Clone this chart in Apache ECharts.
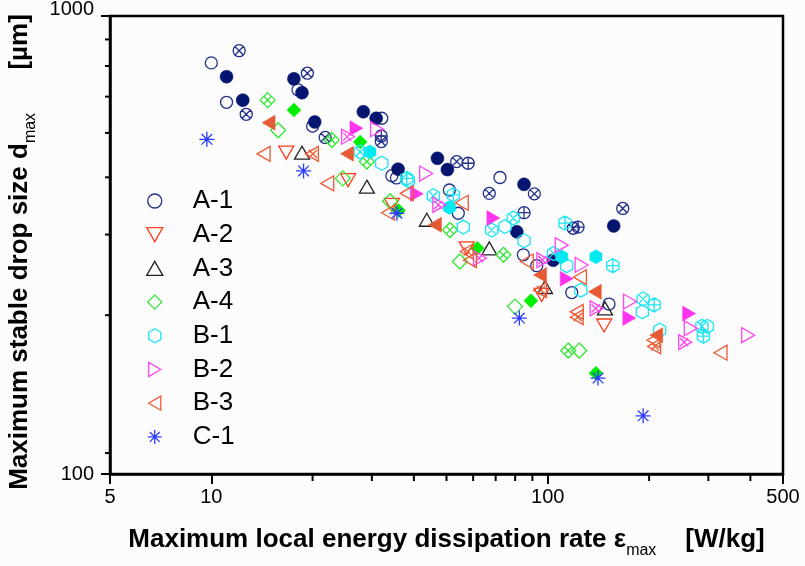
<!DOCTYPE html>
<html>
<head>
<meta charset="utf-8">
<script src="https://cdn.jsdelivr.net/npm/echarts@6/dist/echarts.min.js"></script>
<style>
html,body{margin:0;padding:0;background:#fcfcfc;}
#main{width:805px;height:566px;}
</style>
</head>
<body>
<div id="main"></div>
<script>
// tick positions
var xMinorTicks = [20, 30, 40, 50, 60, 70, 80, 90, 200, 300, 400]
var yMinorTicks = [111.1, 222.2, 333.3, 444.4, 555.6, 666.7, 777.8, 888.9]
var groups = ['A-1', 'A-2', 'A-3', 'A-4', 'B-1', 'B-2', 'B-3', 'C-1']

// [epsilon_max W/kg, d_max um]
var a1Open = [[10.0,790],[11.1,648],[18.1,690],[20.0,575],[32.1,598],[34.4,448],[35.5,443],[51.0,417],[54.2,371],[72.1,444],[84.6,301],[92.7,285],[117.8,249],[152,235]]
var a1Filled = [[11.1,737],[12.4,655],[17.6,729],[18.6,680],[20.3,587],[28.3,618],[30.9,598],[35.9,463],[47.0,489],[50.3,462],[85.0,429],[80.9,338],[103.8,293],[157,348]]
var a1Cross = [[12.1,840],[12.7,610],[19.3,750],[21.8,543],[32.0,532],[53.6,481],[67.0,410],[91.2,409],[119,344],[167,380]]
var a1Plus = [[32.0,547],[58.0,477],[85.0,372],[123,346]]
var a2Open = [[16.7,503],[25.5,438],[34.4,387],[57.4,311],[95.9,246],[147,211]]
var a3Open = [[18.6,503],[29.0,424],[43.7,359],[67.0,311],[98.1,256],[147.9,230]]
var a4Open = [[15.8,563],[24.6,442],[34.0,394],[54.8,291],[79.9,232],[124,186]]
var a4Filled = [[17.6,623],[27.7,531],[36.0,376],[61.7,311],[89.1,239],[139,166]]
var a4Cross = [[14.7,655],[22.8,536],[29.0,481],[51.2,341],[73.8,301],[115,186]]
var b1Open = [[32.1,477],[38.5,437],[56.1,346],[74.6,347],[85.0,323],[113.8,285],[125.3,252],[191,226],[215,206],[298,210]]
var b1Filled = [[29.6,505],[51.0,382],[110.0,298],[139,298]]
var b1Cross = [[27.7,505],[45.7,405],[68.1,341],[79.0,362],[104,303],[192,241],[287,210]]
var b1Plus = [[38.1,442],[52.4,407],[112.5,353],[156,285],[207,234],[290,200]]
var b2Open = [[31.1,566],[43.5,453],[110,316],[126,286],[175.5,238],[266,208],[394,201]]
var b2Filled = [[27.0,569],[40.8,409],[68.9,362],[113.8,267],[174.7,219],[263,224]]
var b2Cross = [[25.5,545],[47.6,387],[62.9,296],[97.0,293],[139.7,230],[256,194]]
var b3Open = [[14.3,500],[22.1,431],[33.5,372],[38.1,410],[55.5,391],[58.7,293],[86.6,291],[124.6,269],[121.9,226],[206,196],[326,184]]
var b3Filled = [[14.8,585],[25.3,500],[46.2,350],[94.8,272],[138,250],[210,201]]
var b3Cross = [[19.9,500],[57.4,306],[94.8,252],[121.9,220],[207,190]]
var c1Open = [[9.7,538],[18.8,459],[35.6,371],[82.3,219],[141,162],[192,134]]

// symbol shapes
var CIR = 'M10,0A10,10,0,1,1,-10,0A10,10,0,1,1,10,0Z'
var HEX = 'M0,-10L8.66,-5L8.66,5L0,10L-8.66,5L-8.66,-5Z'
var DIA = 'M0,-10L10,0L0,10L-10,0Z'
var TUP = 'M0,-10L10,7.3L-10,7.3Z'
var TDN = 'M0,10L10,-7.3L-10,-7.3Z'
var TRT = 'M10,0L-7.3,10L-7.3,-10Z'
var TLT = 'M-10,0L7.3,10L7.3,-10Z'
var X7 = 'M-7.07,-7.07L7.07,7.07M7.07,-7.07L-7.07,7.07'
var X6 = 'M-5.5,-5.5L5.5,5.5M5.5,-5.5L-5.5,5.5'
var P10 = 'M-10,0L10,0M0,-10L0,10'
var AST = 'M0,-10L0,10M-10,0L10,0' + X7

function p(s){ return 'path://' + s }

function mk(name, data, sym, color, filled, size){
	return {
		name: name,
		type: 'scatter',
		data: data,
		symbol: p(sym),
		symbolSize: size || 13,
		symbolKeepAspect: true,
		silent: true,
		itemStyle: filled ? {color: color, borderColor: color, borderWidth: 0.5, opacity: 1}
			: {color: 'rgba(0,0,0,0)', borderColor: color, borderWidth: 1.3, opacity: 1}
	}
}

var navy = '#23308a', navyF = '#061670'
var red = '#ff3c1c', blk = '#222222'
var green = '#33e633', greenF = '#00ee00'
var cyan = '#19e6f2', cyanF = '#00e8f0'
var mag = '#ff44f0', magF = '#ff33ee'
var org = '#ee5a35', orgF = '#e65a35'
var blue = '#2a3cff'

var series = [
	mk('A-1', a1Open, CIR, navy, false, 12),
	mk('A-1', a1Filled, CIR, navyF, true, 13),
	mk('A-1', a1Cross, CIR + X7, navy, false, 12),
	mk('A-1', a1Plus, CIR + P10, navy, false, 12),
	mk('A-2', a2Open, TDN, red, false, 15),
	mk('A-3', a3Open, TUP, blk, false, 15),
	mk('A-4', a4Open, DIA, green, false, 15),
	mk('A-4', a4Filled, DIA, greenF, true, 14),
	mk('A-4', a4Cross, DIA + X6, green, false, 15),
	mk('B-1', b1Open, HEX, cyan, false, 14),
	mk('B-1', b1Filled, HEX, cyanF, true, 14),
	mk('B-1', b1Cross, HEX + X6, cyan, false, 14),
	mk('B-1', b1Plus, HEX + 'M-8.66,0L8.66,0M0,-10L0,10', cyan, false, 14),
	mk('B-2', b2Open, TRT, mag, false, 15),
	mk('B-2', b2Filled, TRT, magF, true, 15),
	mk('B-2', b2Cross, TRT + X6, mag, false, 15),
	mk('B-3', b3Open, TLT, org, false, 15),
	mk('B-3', b3Filled, TLT, orgF, true, 15),
	mk('B-3', b3Cross, TLT + X6, org, false, 15),
	mk('C-1', c1Open, AST, blue, false, 15)
]

var font = 'Liberation Sans, Arial, sans-serif'
var titleRich = {
	a: {fontSize: 26, fontWeight: 'bold', fontFamily: font, color: '#000', lineHeight: 26, verticalAlign: 'top'},
	sub: {fontSize: 16, fontWeight: 'normal', fontFamily: font, color: '#000', lineHeight: 14, verticalAlign: 'top', padding: [16, 0, 0, 0]},
	end: {fontSize: 26, fontWeight: 'bold', fontFamily: font, color: '#000', lineHeight: 26, verticalAlign: 'top', padding: [0, 14, 0, 0]}
}

var chart = echarts.init(document.getElementById('main'))
chart.setOption({
	backgroundColor: '#fcfcfc',
	animation: false,
	grid: {left: 110, right: 22, top: 16, bottom: 92, containLabel: false, outerBoundsMode: 'none',
		show: true, borderColor: '#000', borderWidth: 2.5, backgroundColor: 'transparent'},
	legend: {
		data: groups,
		orient: 'vertical',
		left: 141,
		top: 181,
		itemWidth: 66,
		itemHeight: 14,
		itemGap: 3.7,
		selectedMode: false,
		itemStyle: {borderWidth: 1.3},
		textStyle: {fontSize: 26, fontFamily: font, color: '#000', lineHeight: 30}
	},
	xAxis: {
		type: 'log', logBase: 10, min: 5, max: 500,
		axisLine: {show: true, lineStyle: {color: '#000', width: 2.5}},
		axisTick: {show: true, length: 10, lineStyle: {color: '#000', width: 2}},
		axisLabel: {color: '#000', fontSize: 20, fontFamily: font, margin: 13},
		splitLine: {show: false},
		name: '{a|Maximum local energy dissipation rate ε}{sub|max}{a|    [W/kg]}',
		nameLocation: 'middle',
		nameGap: 53,
		nameTextStyle: {rich: titleRich}
	},
	yAxis: {
		type: 'log', logBase: 10, min: 100, max: 1000,
		axisLine: {show: true, lineStyle: {color: '#000', width: 2.5}},
		axisTick: {show: true, length: 9, lineStyle: {color: '#000', width: 2}},
		axisLabel: {
			color: '#000', fontSize: 20, fontFamily: font, margin: 16,
			formatter: function(v){
				v = Math.round(v)
				return v == 1000 ? '{hi|1000}' : '{n|' + v + '}'
			},
			rich: {
				hi: {fontSize: 20, fontFamily: font, color: '#000', padding: [0, 0, 14, 0]},
				n: {fontSize: 20, fontFamily: font, color: '#000'}
			}
		},
		splitLine: {show: false},
		name: '{a|Maximum stable drop size d}{sub|max}{end|      [µm]}',
		nameLocation: 'middle',
		nameRotate: 90,
		nameGap: 66,
		nameTextStyle: {rich: titleRich}
	},
	series: series
})

// minor ticks: positions come from the axes' own scales
var ticks = []
var axisY = chart.convertToPixel({yAxisIndex: 0}, 100)
var axisX = chart.convertToPixel({xAxisIndex: 0}, 5)
xMinorTicks.forEach(function(v){
	var px = chart.convertToPixel({xAxisIndex: 0}, v)
	ticks.push({type: 'line', silent: true, z: 10,
		shape: {x1: px, y1: axisY, x2: px, y2: axisY + 7},
		style: {stroke: '#000', lineWidth: 2}})
})
yMinorTicks.forEach(function(v){
	var py = chart.convertToPixel({yAxisIndex: 0}, v)
	ticks.push({type: 'line', silent: true, z: 10,
		shape: {x1: axisX, y1: py, x2: axisX - 5, y2: py},
		style: {stroke: '#000', lineWidth: 2}})
})
chart.setOption({graphic: ticks})
</script>
</body>
</html>
